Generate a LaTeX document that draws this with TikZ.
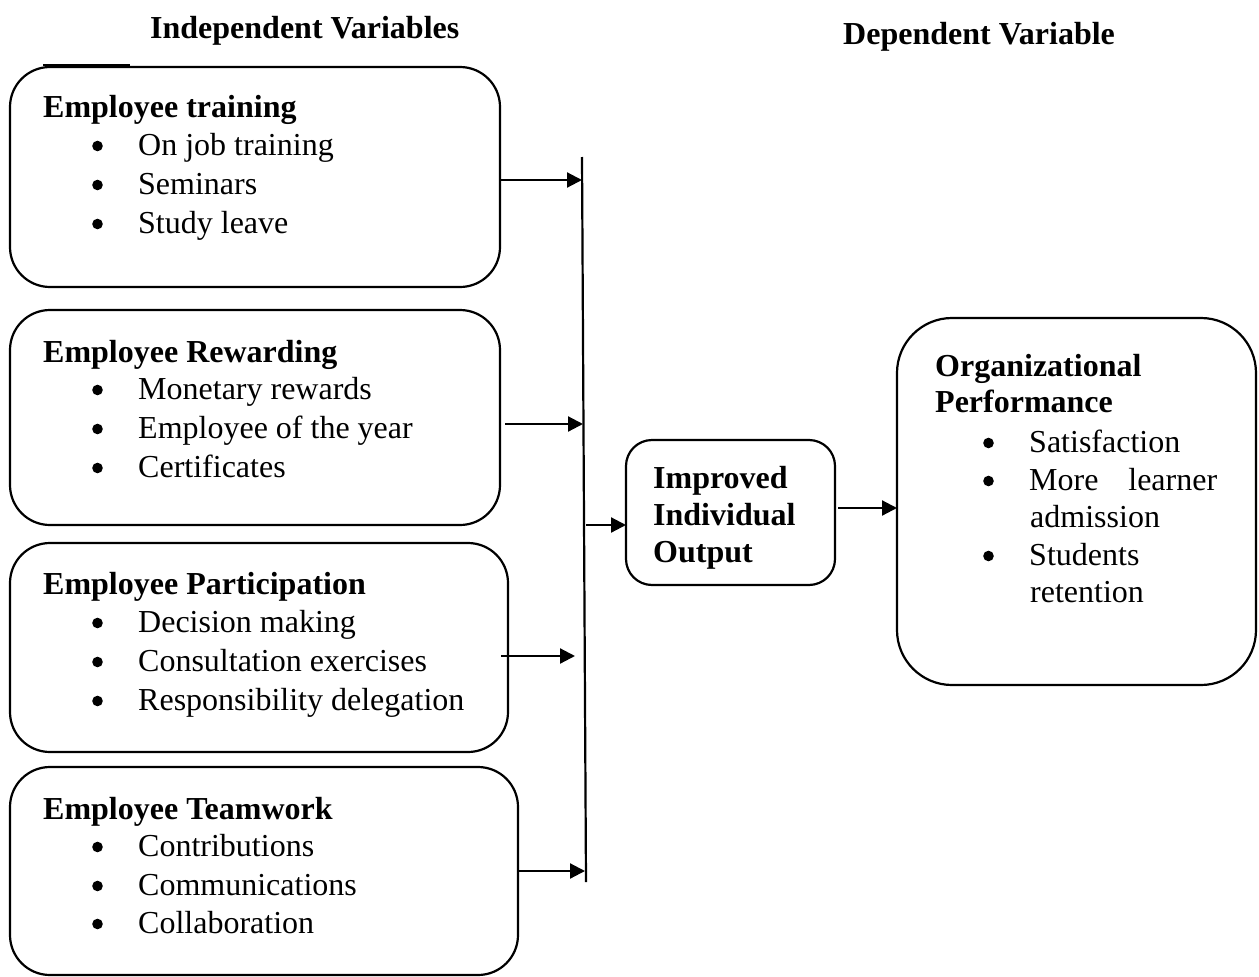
\documentclass[tikz,border=0pt]{standalone}
\usepackage{fontspec}
\setmainfont{Liberation Serif}
\usetikzlibrary{arrows.meta}
\newcommand\mybul{\makebox[46pt][l]{\tikz[baseline=0pt]\fill (5.5pt,9pt) circle (5.3pt);}}
\begin{document}
\begin{tikzpicture}[x=1pt,y=-1pt,
  bx/.style={draw, line width=2.2pt, inner sep=0pt, outer sep=0pt},
  ttl/.style={anchor=base west, inner sep=0pt, font=\fontsize{32}{38}\selectfont\bfseries},
  itm/.style={anchor=base west, inner sep=0pt, font=\fontsize{32}{38}\selectfont},
  arr/.style={line width=2.2pt, -{Triangle[length=15pt,width=15pt]}}]
\useasboundingbox (0,0) rectangle (1259,977);

% headers
\node[ttl] (h1) at (150,38) {Independent Variables};
\node[ttl] (h2) at (843,45) {Dependent Variable};

% boxes
\node[bx, rounded corners=40pt, minimum width=490pt, minimum height=220pt] (b1) at (255,177) {};
\node[bx, rounded corners=40pt, minimum width=490pt, minimum height=215pt] (b2) at (255,417.5) {};
\node[bx, rounded corners=40pt, minimum width=498pt, minimum height=209pt] (b3) at (259,647.5) {};
\node[bx, rounded corners=40pt, minimum width=508pt, minimum height=208pt] (b4) at (264,871) {};
\node[bx, rounded corners=26pt, minimum width=209pt, minimum height=145pt] (m) at (730.5,512.5) {};
\node[bx, rounded corners=55pt, minimum width=359pt, minimum height=367pt] (r) at (1076.5,501.5) {};

% small line above box 1
\coordinate (s1) at (43,65);
\coordinate (s2) at (130,65);
\draw[line width=1.6pt] (s1) -- (s2);

% box 1 text
\node[ttl] (t1) at (43,117) {Employee training};
\node[itm] (t1a) at (92,155) {\mybul On job training};
\node[itm] (t1b) at (92,194) {\mybul Seminars};
\node[itm] (t1c) at (92,233) {\mybul Study leave};

% box 2 text
\node[ttl] (t2) at (43,362) {Employee Rewarding};
\node[itm] (t2a) at (92,399) {\mybul Monetary rewards};
\node[itm] (t2b) at (92,438) {\mybul Employee of the year};
\node[itm] (t2c) at (92,477) {\mybul Certificates};

% box 3 text
\node[ttl] (t3) at (43,594) {Employee Participation};
\node[itm] (t3a) at (92,632) {\mybul Decision making};
\node[itm] (t3b) at (92,671) {\mybul Consultation exercises};
\node[itm] (t3c) at (92,710) {\mybul Responsibility delegation};

% box 4 text
\node[ttl] (t4) at (43,819) {Employee Teamwork};
\node[itm] (t4a) at (92,856) {\mybul Contributions};
\node[itm] (t4b) at (92,895) {\mybul Communications};
\node[itm] (t4c) at (92,933) {\mybul Collaboration};

% middle text
\node[ttl] (m1) at (653,488) {Improved};
\node[ttl] (m2) at (653,525) {Individual};
\node[ttl] (m3) at (653,562) {Output};

% right text
\node[ttl] (r1) at (935,376) {Organizational};
\node[ttl] (r2) at (935,412) {Performance};
\node[itm] (r3) at (983,452) {\mybul Satisfaction};
\node[itm] (r4) at (983,490) {\mybul\makebox[188pt][l]{More\hfill learner}};
\node[itm] (r5) at (1030,527) {admission};
\node[itm] (r6) at (983,565) {\mybul Students};
\node[itm] (r7) at (1030,602) {retention};

% vertical collector line
\coordinate (vt) at (582,157);
\coordinate (vb) at (586,882);
\draw[line width=2.2pt] (vt) -- (vb);

% arrows into collector
\coordinate (v1) at (582,180);
\coordinate (v2) at (583,424);
\coordinate (v3) at (575,656);
\coordinate (v4) at (585,871);
\coordinate (v5) at (586,525);
\draw[arr] (b1.east |- v1) -- (v1);
\draw[arr] ([xshift=5pt]b2.east |- v2) -- (v2);
\draw[arr] ([xshift=-7pt]b3.east |- v3) -- (v3);
\draw[arr] (b4.east |- v4) -- (v4);
\draw[arr] (v5) -- (m.west |- v5);
\draw[arr] ([xshift=3pt]m.east |- 0,508) -- (r.west |- 0,508);
\end{tikzpicture}
\end{document}
